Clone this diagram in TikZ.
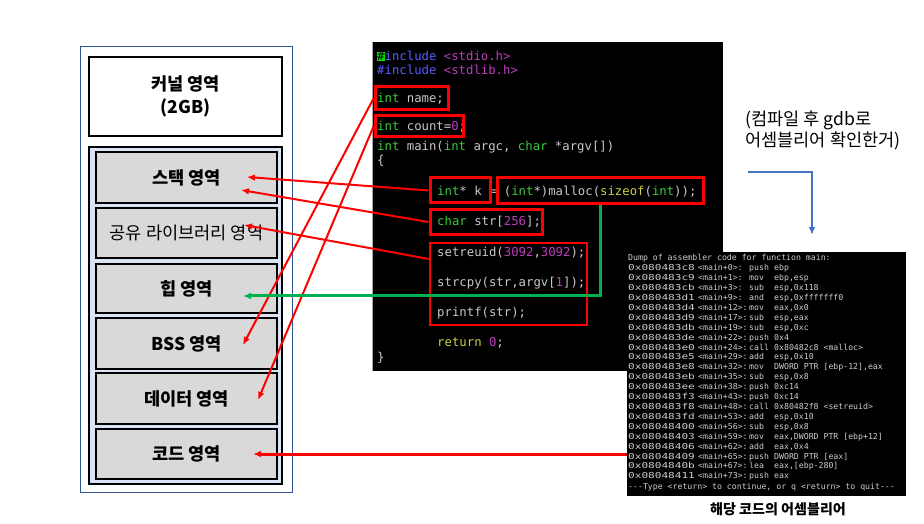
\documentclass[tikz,border=0pt]{standalone}
\usepackage{fontspec}
\setmainfont{Noto Sans CJK KR}
\setmonofont{DejaVu Sans Mono}
\usetikzlibrary{arrows.meta}

\definecolor{regfill}{RGB}{217,217,217}
\definecolor{userfill}{RGB}{218,227,243}
\definecolor{frameblue}{RGB}{47,85,151}
\definecolor{cgrey}{RGB}{200,200,200}
\definecolor{ckey}{RGB}{60,200,60}
\definecolor{cnum}{RGB}{190,60,190}
\definecolor{cinc}{RGB}{90,90,255}
\definecolor{cyel}{RGB}{205,205,70}
\definecolor{cursor}{RGB}{0,230,0}
\definecolor{heapgreen}{RGB}{0,176,80}
\definecolor{noteblue}{RGB}{68,114,196}

\tikzset{
  box/.style 2 args={minimum width=#1*0.3mm, minimum height=#2*0.3mm, inner sep=0pt},
  area/.style={draw, line width=0.75mm, fill=regfill, font=\bfseries\fontsize{15}{19}\selectfont},
  hit/.style={draw=red, line width=0.9mm},
  src/.style={anchor=base west, inner sep=0pt, text=cgrey, font=\ttfamily\fontsize{10.5}{12}\selectfont},
  asmtxt/.style={anchor=base west, inner sep=0pt, text=cgrey!90, font=\ttfamily\fontsize{7}{8}\selectfont},
  ptr/.style={->, red, line width=0.6mm}
}

\begin{document}
\begin{tikzpicture}[x=0.3mm, y=-0.3mm, >={Latex[length=2.4mm,width=2mm]}]
  \useasboundingbox (0,0) rectangle (924,524);
  \fill[white] (0,0) rectangle (924,524);

  % memory map
  \node[draw=frameblue, line width=0.3mm, box={212}{445}] (mem) at (186,269.5) {};
  \node[draw, line width=0.75mm, fill=white, box={193}{79}, align=center,
        font=\bfseries\fontsize{15}{20}\selectfont] (kernel) at (185.5,96.5) {커널 영역\\(2GB)};
  \node[draw, line width=0.75mm, fill=userfill, box={193}{337}] (user) at (185.5,315.5) {};
  \node[area, box={181}{51}] (stack) at (186.5,177.5) {스택 영역};
  \node[area, box={181}{50}, font=\fontsize{15}{19}\selectfont] (shlib) at (186.5,233) {공유 라이브러리 영역};
  \node[area, box={181}{49}] (heap) at (186.5,288.5) {힙 영역};
  \node[area, box={181}{51}] (bss) at (186.5,343.5) {BSS 영역};
  \node[area, box={181}{51}] (data) at (186.5,398.5) {데이터 영역};
  \node[area, box={181}{50}] (code) at (186.5,454) {코드 영역};

  % source code
  \node[fill=black, box={350}{329}] (term) at (548,206.5) {};
  \draw[gray!70, line width=0.3mm] (term.north west) -- (term.south west);
  \node[src] (lInc1) at (377,61) {{\fboxsep0pt\colorbox{cursor}{\textcolor{black}{\#}}}\textcolor{cinc}{include} \textcolor{cnum}{<stdio.h>}};
  \node[src] (lInc2) at (377,75) {\textcolor{cinc}{\#include} \textcolor{cnum}{<stdlib.h>}};
  \node[src] (lName) at (377,103) {\textcolor{ckey}{int} name;};
  \node[src] (lCount) at (377,131) {\textcolor{ckey}{int} count=\textcolor{cnum}{0};};
  \node[src] (lMain) at (377,151) {\textcolor{ckey}{int} main(\textcolor{ckey}{int} argc, \textcolor{ckey}{char} *argv[])};
  \node[src] (lOpen) at (377,165) {\{};
  \node[src] (lPtr) at (437,196) {\textcolor{ckey}{int}* k = (\textcolor{ckey}{int}*)malloc(\textcolor{cyel}{sizeof}(\textcolor{ckey}{int}));};
  \node[src] (lStr) at (437,226) {\textcolor{ckey}{char} str[\textcolor{cnum}{256}];};
  \node[src] (lSet) at (437,257) {setreuid(\textcolor{cnum}{3092},\textcolor{cnum}{3092});};
  \node[src] (lCpy) at (437,287) {strcpy(str,argv[\textcolor{cnum}{1}]);};
  \node[src] (lPrt) at (437,317) {printf(str);};
  \node[src] (lRet) at (437,346) {\textcolor{cyel}{return} \textcolor{cnum}{0};};
  \node[src] (lClose) at (377,361) {\}};

  \node[hit, box={73}{23}] (bName) at (411.5,98.5) {};
  \node[hit, box={88}{21}] (bCount) at (419,126.5) {};
  \node[hit, box={60}{25}] (bPtr) at (460,190.5) {};
  \node[hit, box={206}{26}] (bMalloc) at (600,191) {};
  \node[hit, box={112}{25}] (bStr) at (486,222) {};
  \node[hit, line width=0.6mm, box={157}{82}] (bCall) at (508.5,284) {};

  % gdb output
  \node[fill=black, box={279}{244}] (asm) at (766.5,374) {};
  \node[asmtxt] (aHead) at (628,261) {Dump of assembler code for function main:};
  \foreach \ad/\of/\mn/\op [count=\n] in {
      0x080483c8/0/push/ebp, 0x080483c9/1/mov/{ebp,esp},
      0x080483cb/3/sub/{esp,0x118}, 0x080483d1/9/and/{esp,0xfffffff0},
      0x080483d4/12/mov/{eax,0x0}, 0x080483d9/17/sub/{esp,eax},
      0x080483db/19/sub/{esp,0xc}, 0x080483de/22/push/0x4,
      0x080483e0/24/call/0x80482c8 <malloc>, 0x080483e5/29/add/{esp,0x10},
      0x080483e8/32/mov/{DWORD PTR [ebp-12],eax}, 0x080483eb/35/sub/{esp,0x8},
      0x080483ee/38/push/0xc14, 0x080483f3/43/push/0xc14,
      0x080483f8/48/call/0x80482f8 <setreuid>, 0x080483fd/53/add/{esp,0x10},
      0x08048400/56/sub/{esp,0x8}, 0x08048403/59/mov/{eax,DWORD PTR [ebp+12]},
      0x08048406/62/add/{eax,0x4}, 0x08048409/65/push/DWORD PTR [eax],
      0x0804840b/67/lea/{eax,[ebp-280]}, 0x08048411/73/push/eax}{
    \node[asmtxt] (ad\n) at (628,261+9.9*\n) {\scalebox{1.35}[1]{\ad}};
    \node[asmtxt] (of\n) at (698,261+9.9*\n) {<main+\of>:};
    \node[asmtxt] (mn\n) at (749,261+9.9*\n) {\mn};
    \node[asmtxt] (op\n) at (774,261+9.9*\n) {\op};
  }
  \node[asmtxt] (aTail) at (628,489) {---Type <return> to continue, or q <return> to quit---};
  \node[font=\bfseries\fontsize{12}{14}\selectfont] (cap) at (778,509) {해당 코드의 어셈블리어};

  \node[anchor=north west, align=left, inner sep=0pt, font=\fontsize{15}{18}\selectfont] (note) at (745,111)
    {(컴파일 후 gdb로\\어셈블리어 확인한거)};
  \coordinate (nS) at (748,172);
  \coordinate (nT) at (812,235);
  \draw[->, noteblue, line width=0.8mm] (nS) -| (nT);

  % where each part lives
  \coordinate (tStackA) at (247,177);
  \coordinate (tStackB) at (241,190);
  \coordinate (tLib) at (244,225);
  \coordinate (tHeap) at (243,296);
  \coordinate (tBss) at (243,345);
  \coordinate (tData) at (258,400);
  \coordinate (tCode) at (253,454);
  \draw[ptr] (bPtr.west) -- (tStackA);
  \draw[ptr] (bStr.west) -- (tStackB);
  \draw[ptr] ([yshift=7.5mm]bCall.west) -- (tLib);
  \draw[ptr] (bName.west) -- (tBss);
  \draw[ptr] (bCount.west) -- (tData);
  \draw[->, heapgreen, line width=0.9mm] (bMalloc.south) |- (tHeap);
  \draw[->, red, line width=0.9mm] (asm.west |- code) -- (tCode);
\end{tikzpicture}
\end{document}
